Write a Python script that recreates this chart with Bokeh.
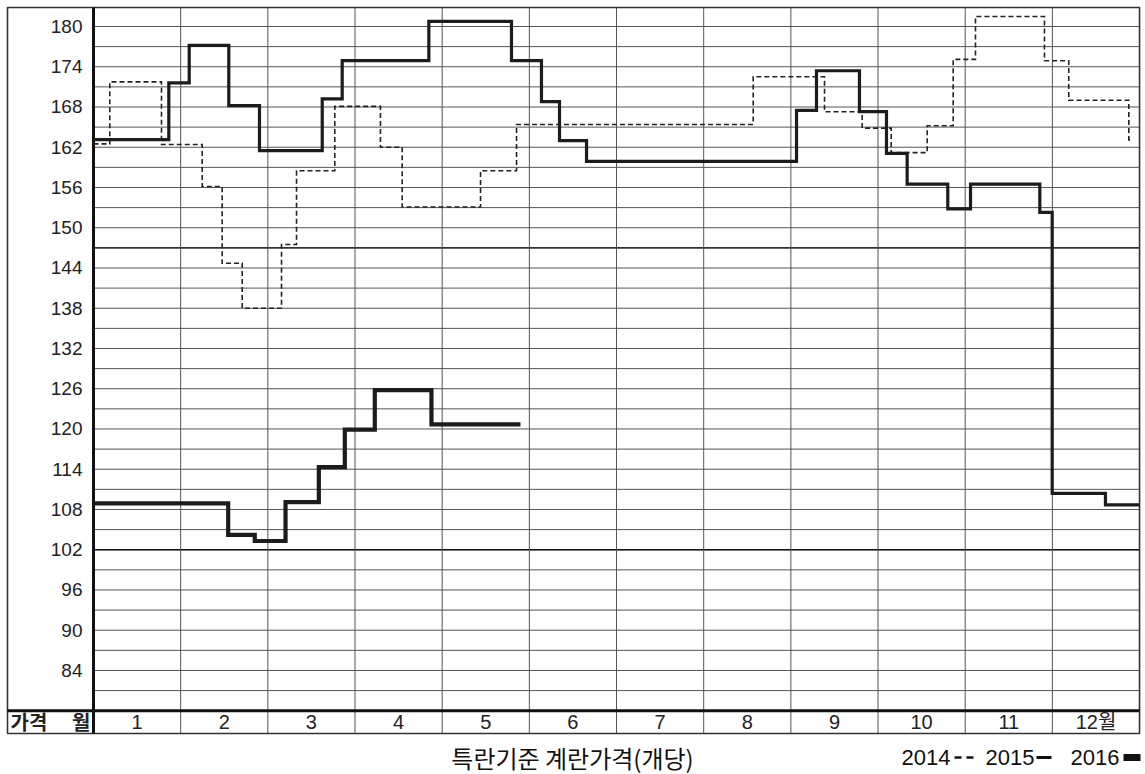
from bokeh.plotting import figure
from bokeh.models import Range1d
from bokeh.embed import file_html
from bokeh.resources import INLINE
from bokeh.core.properties import value

# ---------------- data ----------------
months = ["1", "2", "3", "4", "5", "6", "7", "8", "9", "10", "11", "12월"]
y_ticks = [84, 90, 96, 102, 108, 114, 120, 126, 132, 138, 144, 150, 156, 162, 168, 174, 180]
y_tick_labels = [str(v) for v in y_ticks]

# weekly step series: x in month units (0 = start of Jan, 12 = end of Dec)
x2014 = [0, 0.187, 0.78, 1.247, 1.476, 1.706, 2.157, 2.329, 2.768, 3.292, 3.541, 4.44,
         4.853, 7.568, 8.386, 8.818, 9.151, 9.564, 9.862, 10.118, 10.909, 11.188, 11.877, 11.91]
y2014 = [162.5, 171.75, 162.4, 156.15, 144.7, 138.0, 147.5, 158.5, 168.1, 162.0, 153.1, 158.5,
         165.4, 172.5, 167.3, 164.85, 161.2, 165.2, 175.1, 181.5, 174.9, 169.0, 163.1, 163.1]

x2015 = [0, 0.864, 1.098, 1.552, 1.904, 2.624, 2.853, 3.847, 4.795, 5.139, 5.346, 5.656,
         8.065, 8.294, 8.787, 9.097, 9.334, 9.800, 10.061, 10.856, 10.998, 11.609, 12]
y2015 = [163.15, 171.6, 177.2, 168.2, 161.5, 169.2, 174.9, 180.75, 174.9, 168.8, 163.0, 159.9,
         167.5, 173.4, 167.3, 161.1, 156.5, 152.8, 156.5, 152.3, 110.4, 108.7, 108.7]

x2016 = [0, 1.545, 1.850, 2.203, 2.585, 2.883, 3.227, 3.877, 4.898]
y2016 = [108.9, 104.2, 103.3, 109.1, 114.3, 119.9, 125.8, 120.7, 120.7]

title_text = "특란기준 계란가격(개당)"
legend_years = ["2014", "2015", "2016"]
corner_left = "가격"
corner_right = "월"

# ---------------- layout helpers (picture pixels -> data units) ----------------
KX = 87.17   # px per month
KY = 6.708   # px per price unit


def px(xp):
    return (xp - 93.0) / KX


def py(yp):
    return 180.0 - (yp - 26.0) / KY


W, H = 1145, 774
p = figure(width=W, height=H, x_range=Range1d(px(0), px(W)), y_range=Range1d(py(H), py(0)),
           output_backend="svg", toolbar_location=None, x_axis_type=None, y_axis_type=None,
           min_border=0, min_border_left=0, min_border_right=0, min_border_top=0, min_border_bottom=0)
p.grid.visible = False
p.outline_line_color = None
p.background_fill_color = "white"
p.border_fill_color = "white"

GRID = "#555555"
X_END = 12.0
Y_TOP = py(7)
Y_BOT = py(733)
X_LEFT = px(7)

# horizontal grid lines every 3 units
hvals = list(range(81, 181, 3))
p.segment(x0=[0] * len(hvals), x1=[X_END] * len(hvals), y0=hvals, y1=hvals,
          line_color=GRID, line_width=1)
# darker reference lines
p.segment(x0=[0, 0], x1=[X_END, X_END], y0=[147, 102], y1=[147, 102], line_color="#111", line_width=1.4)

# vertical month dividers (through the month row)
vx = list(range(1, 12))
p.segment(x0=vx, x1=vx, y0=[Y_BOT] * len(vx), y1=[Y_TOP] * len(vx), line_color=GRID, line_width=1)

# outer frame
p.quad(left=[X_LEFT], right=[X_END], bottom=[Y_BOT], top=[Y_TOP], fill_alpha=0,
       line_color="#333", line_width=1.6)
# thick axis lines
p.segment(x0=[0], x1=[0], y0=[Y_BOT], y1=[Y_TOP], line_color="#111", line_width=3)
p.segment(x0=[X_LEFT], x1=[X_END], y0=[78], y1=[78], line_color="#111", line_width=3)

# series
p.step(x=x2014, y=y2014, mode="after", line_color="#222", line_width=1.6, line_dash="5 3",
       line_join="miter")
p.step(x=x2015, y=y2015, mode="after", line_color="#1c1c1c", line_width=3.2, line_join="miter")
p.step(x=x2016, y=y2016, mode="after", line_color="#1c1c1c", line_width=4.2, line_join="miter")

# y tick labels
p.text(x=[px(82)] * len(y_ticks), y=y_ticks, text=y_tick_labels, text_align="right",
       text_baseline="middle", text_font=value("Liberation Sans"), text_font_size="19px",
       text_color="#222")

# month labels
p.text(x=[i + 0.5 for i in range(12)], y=[py(721)] * 12, text=months, text_align="center",
       text_baseline="middle", text_font=value("Liberation Sans, Noto Sans CJK KR"),
       text_font_size="20px", text_color="#222")

# corner cell
p.text(x=[px(10)], y=[py(721)], text=[corner_left], text_align="left", text_baseline="middle",
       text_font=value("Noto Sans CJK KR"), text_font_size="20px", text_font_style="bold",
       text_color="#222")
p.text(x=[px(90)], y=[py(721)], text=[corner_right], text_align="right", text_baseline="middle",
       text_font=value("Noto Sans CJK KR"), text_font_size="20px", text_font_style="bold",
       text_color="#222")

# title
p.text(x=[px(572)], y=[py(757)], text=[title_text], text_align="center", text_baseline="middle",
       text_font=value("Noto Sans CJK KR"), text_font_size="24px", text_color="#111")

# legend
LEG_Y = py(757)
LEG_FONT = value("Liberation Sans")
p.text(x=[px(901), px(985), px(1070)], y=[LEG_Y] * 3, text=legend_years, text_align="left",
       text_baseline="middle", text_font=LEG_FONT, text_font_size="22px", text_color="#111")
p.segment(x0=[px(954), px(966)], x1=[px(961), px(973)], y0=[py(757)] * 2, y1=[py(757)] * 2,
          line_color="#111", line_width=2.5)
p.segment(x0=[px(1036)], x1=[px(1051)], y0=[py(757)], y1=[py(757)], line_color="#111",
          line_width=3)
p.segment(x0=[px(1123)], x1=[px(1140)], y0=[py(757)], y1=[py(757)], line_color="#111",
          line_width=7)

open("out.html", "w").write(file_html(p, INLINE))
